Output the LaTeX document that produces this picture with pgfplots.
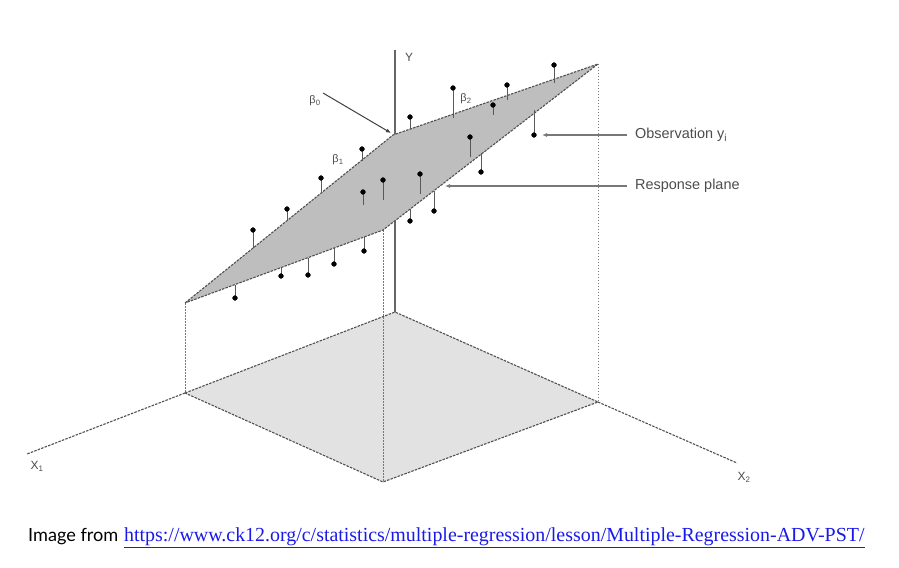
\documentclass[border=0pt]{standalone}
\usepackage{pgfplots}
\pgfplotsset{compat=1.18}
\usepackage{fontspec}
\setmainfont{Liberation Sans}
\newfontfamily\lato{Lato}
\newfontfamily\tnr{Liberation Serif}
\usetikzlibrary{arrows.meta}
\definecolor{planefill}{RGB}{190,190,190}
\definecolor{floorfill}{RGB}{226,226,226}
\definecolor{edge}{RGB}{80,80,80}
\definecolor{lead}{RGB}{120,120,120}
\definecolor{linkblue}{RGB}{25,25,235}
\begin{document}
\begin{tikzpicture}
\begin{axis}[
  scale only axis, width=899bp, height=568bp,
  xmin=0, xmax=899, ymin=0, ymax=568, y dir=reverse,
  hide axis, clip=false,
]
\addplot[draw=none, forget plot] coordinates {(0,0) (899,568)};
% floor
\addplot[fill=floorfill, draw=edge, line width=1.1bp, dash pattern=on 2.5bp off 1.2bp] coordinates {(185,393) (395,312) (598,402) (383,482) (185,393)};
% X axes
\addplot[edge, line width=1.1bp, dash pattern=on 2.5bp off 1.2bp] coordinates {(185,393) (27,454)};
\addplot[edge, line width=1.1bp, dash pattern=on 2.5bp off 1.2bp] coordinates {(598,402) (737,463)};
% vertical dotted projections
\addplot[lead, line width=1bp, dash pattern=on 1.5bp off 1.5bp] coordinates {(185,303) (185,393)};
\addplot[lead, line width=1bp, dash pattern=on 1.5bp off 1.5bp] coordinates {(598,64) (598,402)};
\addplot[lead, line width=1bp, dash pattern=on 1.5bp off 1.5bp] coordinates {(383,230) (383,482)};
% Y axis
\addplot[black!60, line width=1.6bp] coordinates {(395,50) (395,312)};
% response plane
\addplot[fill=planefill, draw=edge, line width=1.1bp, dash pattern=on 2.5bp off 1.2bp] coordinates {(185,303) (393,135) (598,64) (383,230) (185,303)};
% stems
\addplot[black!65, line width=1bp, unbounded coords=jump] coordinates {
(554,65)(554,83) (nan,nan)
(507,85)(507,100) (nan,nan)
(453,88)(453,118) (nan,nan)
(493,105)(493,115) (nan,nan)
(410,117)(410,129) (nan,nan)
(534,135)(534,110) (nan,nan)
(470,137)(470,157) (nan,nan)
(481,172)(481,153) (nan,nan)
(362,149)(362,161) (nan,nan)
(321,178)(321,193) (nan,nan)
(287,209)(287,221) (nan,nan)
(253,230)(253,248) (nan,nan)
(363,192)(363,205) (nan,nan)
(383,180)(383,200) (nan,nan)
(420,174)(420,194) (nan,nan)
(410,221)(410,209) (nan,nan)
(434,211)(434,191) (nan,nan)
(364,251)(364,237) (nan,nan)
(334,264)(334,248) (nan,nan)
(308,275)(308,258) (nan,nan)
(281,276)(281,268) (nan,nan)
(235,298)(235,285)
};
% observations
\addplot[only marks, mark=*, mark size=2.4bp, black] coordinates {
(554,65) (507,85) (453,88) (493,105) (410,117) (534,135) (470,137) (481,172)
(362,149) (321,178) (287,209) (253,230) (363,192) (383,180) (420,174) (410,221)
(434,211) (364,251) (334,264) (308,275) (281,276) (235,298)
};
% leader arrows
\addplot[lead, line width=1.3bp, -{Latex[length=5bp,width=4bp]}] coordinates {(627,135) (542,135)};
\addplot[lead, line width=1.3bp, -{Latex[length=5bp,width=4bp]}] coordinates {(627,186) (445,186)};
\addplot[black!75, line width=1bp, -{Latex[length=5bp,width=4bp]}] coordinates {(323,93) (391,133)};
% labels
\node[anchor=west, inner sep=0pt, text=black!70, font=\fontsize{14.5}{16}\selectfont] at (axis cs:635,135) {Observation y\textsubscript{i}};
\node[anchor=west, inner sep=0pt, text=black!70, font=\fontsize{14.5}{16}\selectfont] at (axis cs:635,186) {Response plane};
\node[text=black!70, font=\fontsize{12}{14}\selectfont] at (axis cs:409,57) {Y};
\node[text=black!70, font=\fontsize{12}{14}\selectfont] at (axis cs:37,466) {X\textsubscript{1}};
\node[text=black!70, font=\fontsize{12}{14}\selectfont] at (axis cs:744,477) {X\textsubscript{2}};
\node[text=black!70, font=\fontsize{11}{13}\selectfont] at (axis cs:315,101) {β\textsubscript{0}};
\node[text=black!70, font=\fontsize{11}{13}\selectfont] at (axis cs:466,99) {β\textsubscript{2}};
\node[text=black!70, font=\fontsize{11}{13}\selectfont] at (axis cs:338,160) {β\textsubscript{1}};
% caption
\node[anchor=base west, inner sep=0pt, font=\lato\fontsize{18.2}{22}\selectfont] at (axis cs:28,541) {Image from};
\node[anchor=base west, inner sep=0pt, text=linkblue, font=\tnr\fontsize{20}{23}\selectfont] at (axis cs:124,541) {\underline{https://www.ck12.org/c/statistics/multiple-regression/lesson/Multiple-Regression-ADV-PST/}};
\end{axis}
\end{tikzpicture}
\end{document}
